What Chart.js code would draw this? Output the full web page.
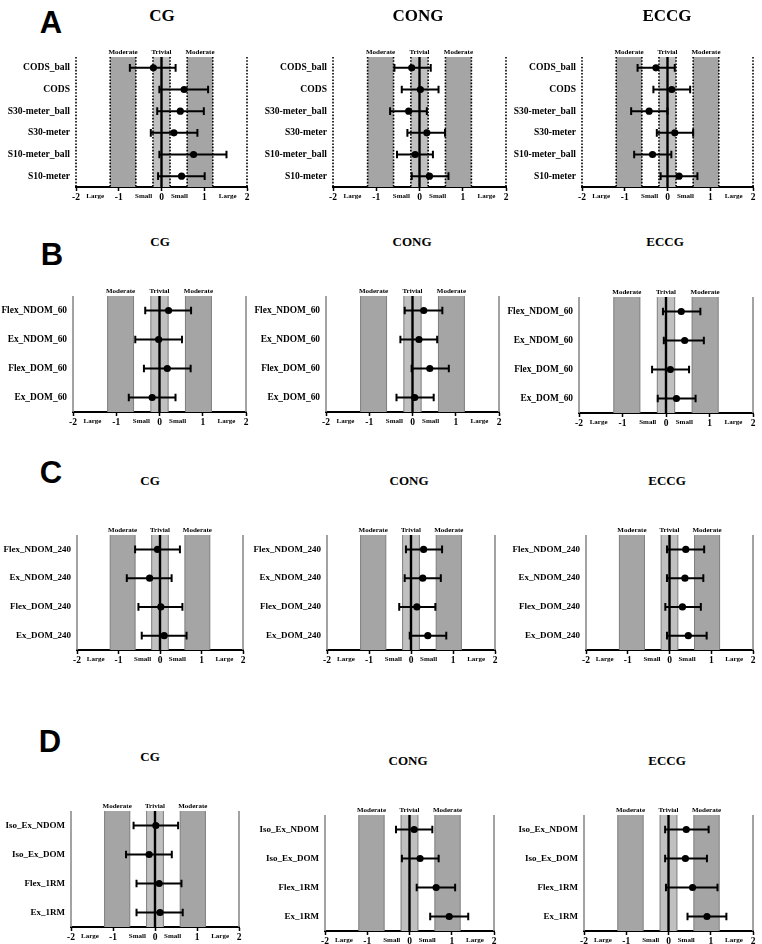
<!DOCTYPE html>
<html><head><meta charset="utf-8">
<script src="https://cdn.jsdelivr.net/npm/chart.js@4.4.1/dist/chart.umd.min.js"></script>
<style>
html,body{margin:0;padding:0;background:#fff;}
#wrap{position:relative;width:762px;height:944px;overflow:hidden;background:#fff;}
#wrap canvas{position:absolute;}
.t{position:absolute;transform:translate(-50%,-50%);font-family:'Liberation Serif','DejaVu Serif',serif;font-weight:bold;white-space:nowrap;color:#000;}
.L{position:absolute;transform:translate(-50%,-50%);font-family:'Liberation Sans',Arial,sans-serif;font-weight:bold;color:#000;font-size:31px;line-height:1;}
</style></head><body><div id="wrap"></div>
<script>
// ---------- DATA ----------
const groups = ['CG', 'CONG', 'ECCG'];
const panelLetters = ['A', 'B', 'C', 'D'];

const catsA = ['CODS_ball', 'CODS', 'S30-meter_ball', 'S30-meter', 'S10-meter_ball', 'S10-meter'];
const catsB = ['Flex_NDOM_60', 'Ex_NDOM_60', 'Flex_DOM_60', 'Ex_DOM_60'];
const catsC = ['Flex_NDOM_240', 'Ex_NDOM_240', 'Flex_DOM_240', 'Ex_DOM_240'];
const catsD = ['Iso_Ex_NDOM', 'Iso_Ex_DOM', 'Flex_1RM', 'Ex_1RM'];

const A_CG_est = [-0.19, 0.53, 0.44, 0.29, 0.75, 0.47];
const A_CG_lo  = [-0.74, -0.05, -0.10, -0.25, -0.05, -0.08];
const A_CG_hi  = [0.33, 1.09, 0.99, 0.84, 1.52, 1.01];
const A_CONG_est = [-0.18, 0.02, -0.25, 0.17, -0.10, 0.23];
const A_CONG_lo  = [-0.58, -0.41, -0.68, -0.28, -0.52, -0.18];
const A_CONG_hi  = [0.26, 0.44, 0.17, 0.59, 0.31, 0.67];
const A_ECCG_est = [-0.27, 0.10, -0.43, 0.17, -0.35, 0.27];
const A_ECCG_lo  = [-0.70, -0.33, -0.85, -0.25, -0.78, -0.16];
const A_ECCG_hi  = [0.17, 0.53, 0.00, 0.60, 0.09, 0.70];

const B_CG_est = [0.21, -0.02, 0.18, -0.17];
const B_CG_lo  = [-0.33, -0.56, -0.36, -0.71];
const B_CG_hi  = [0.73, 0.52, 0.72, 0.37];
const B_CONG_est = [0.26, 0.15, 0.40, 0.05];
const B_CONG_lo  = [-0.18, -0.28, -0.02, -0.37];
const B_CONG_hi  = [0.69, 0.57, 0.84, 0.49];
const B_ECCG_est = [0.35, 0.43, 0.10, 0.24];
const B_ECCG_lo  = [-0.07, -0.05, -0.32, -0.19];
const B_ECCG_hi  = [0.79, 0.87, 0.53, 0.68];

const C_CG_est = [-0.06, -0.25, 0.02, 0.10];
const C_CG_lo  = [-0.60, -0.80, -0.52, -0.44];
const C_CG_hi  = [0.48, 0.28, 0.54, 0.64];
const C_CONG_est = [0.30, 0.28, 0.14, 0.40];
const C_CONG_lo  = [-0.12, -0.15, -0.28, -0.03];
const C_CONG_hi  = [0.74, 0.71, 0.58, 0.84];
const C_ECCG_est = [0.39, 0.37, 0.31, 0.45];
const C_ECCG_lo  = [-0.06, -0.06, -0.10, -0.06];
const C_ECCG_hi  = [0.83, 0.81, 0.75, 0.89];

const D_CG_est = [0.02, -0.14, 0.10, 0.12];
const D_CG_lo  = [-0.51, -0.69, -0.44, -0.44];
const D_CG_hi  = [0.55, 0.40, 0.63, 0.66];
const D_CONG_est = [0.11, 0.25, 0.63, 0.94];
const D_CONG_lo  = [-0.32, -0.18, 0.17, 0.49];
const D_CONG_hi  = [0.54, 0.69, 1.08, 1.39];
const D_ECCG_est = [0.42, 0.40, 0.57, 0.91];
const D_ECCG_lo  = [-0.08, -0.08, -0.06, 0.45];
const D_ECCG_hi  = [0.95, 0.91, 1.16, 1.37];

// effect-size thresholds and axis tick labels
const moderateBands = [[-1.2, -0.6], [0.6, 1.2]];
const trivialBand = [-0.2, 0.2];
const bandLabelPos = [-0.9, 0, 0.9];
const bandLabels = ['Moderate', 'Trivial', 'Moderate'];
const xTickValues = [-2, -1.55, -1, -0.42, 0, 0.42, 1, 1.55, 2];
const xTickLabels = ['-2', 'Large', '-1', 'Small', '0', 'Small', '1', 'Large', '2'];

// ---------- LAYOUT ----------
const SERIF = "'Liberation Serif','DejaVu Serif',serif";
// plot boxes [left, right, top, bottom] per panel (row-major)
const boxes = [
  [76, 247, 57, 187], [333, 506, 57, 187], [582, 753, 57, 187],
  [73, 246, 296, 412], [326, 499, 296, 412], [579, 753, 297, 413],
  [77, 243, 535, 650], [327, 495, 535, 650], [586, 753, 535, 650],
  [71, 239, 811, 927], [325, 494, 815, 931], [584, 753, 815, 931]
];
const titlePos = [
  [[162, 16], [418, 16], [667, 16]],
  [[160, 242], [412, 242], [665, 242]],
  [[150, 481], [409, 481], [667, 481]],
  [[150, 757], [408, 761], [667, 761]]
];
const letterPos = [[51, 22], [52, 254], [51, 472], [50, 741]];
const rowStyle = [
  { dotted: true, labelSize: 9.6, titleSize: 17 },
  { dotted: false, labelSize: 9.4, titleSize: 13 },
  { dotted: false, labelSize: 9, titleSize: 13 },
  { dotted: false, labelSize: 9, titleSize: 13 }
];

const rowsData = [
  { cats: catsA, sets: [[A_CG_est, A_CG_lo, A_CG_hi], [A_CONG_est, A_CONG_lo, A_CONG_hi], [A_ECCG_est, A_ECCG_lo, A_ECCG_hi]] },
  { cats: catsB, sets: [[B_CG_est, B_CG_lo, B_CG_hi], [B_CONG_est, B_CONG_lo, B_CONG_hi], [B_ECCG_est, B_ECCG_lo, B_ECCG_hi]] },
  { cats: catsC, sets: [[C_CG_est, C_CG_lo, C_CG_hi], [C_CONG_est, C_CONG_lo, C_CONG_hi], [C_ECCG_est, C_ECCG_lo, C_ECCG_hi]] },
  { cats: catsD, sets: [[D_CG_est, D_CG_lo, D_CG_hi], [D_CONG_est, D_CONG_lo, D_CONG_hi], [D_ECCG_est, D_ECCG_lo, D_ECCG_hi]] }
];

const isWord = v => Math.abs(v - Math.round(v)) > 1e-6;

const forestPlugin = {
  id: 'forest',
  beforeDatasetsDraw(chart) {
    const o = chart.options.plugins.forest;
    const { ctx, chartArea: a, scales: { x, y } } = chart;
    const px = v => x.getPixelForValue(v);
    ctx.save();
    // bands
    ctx.fillStyle = '#a5a5a5';
    moderateBands.forEach(([l, h]) => ctx.fillRect(px(l), a.top, px(h) - px(l), a.bottom - a.top));
    ctx.fillStyle = '#c0c0c0';
    ctx.fillRect(px(trivialBand[0]), a.top, px(trivialBand[1]) - px(trivialBand[0]), a.bottom - a.top);
    // band edges
    const bandEdges = [moderateBands[0][0], moderateBands[0][1], trivialBand[0], trivialBand[1], moderateBands[1][0], moderateBands[1][1]];
    const vline = (xx) => { ctx.beginPath(); ctx.moveTo(xx, a.top); ctx.lineTo(xx, a.bottom); ctx.stroke(); };
    if (o.dotted) {
      ctx.strokeStyle = '#000'; ctx.lineWidth = 1.6; ctx.setLineDash([1.6, 1.6]);
      [x.min, ...bandEdges, x.max].forEach(v => vline(px(v)));
    } else {
      ctx.strokeStyle = '#7d7d7d'; ctx.lineWidth = 1;
      bandEdges.forEach(v => vline(px(v)));
      ctx.strokeStyle = '#8c8c8c'; ctx.lineWidth = 1.6;
      [x.min, x.max].forEach(v => vline(px(v)));
    }
    ctx.setLineDash([]);
    // band labels
    ctx.fillStyle = '#000';
    ctx.font = 'bold 7px ' + SERIF;
    ctx.textAlign = 'center'; ctx.textBaseline = 'alphabetic';
    bandLabelPos.forEach((v, i) => ctx.fillText(bandLabels[i], px(v), a.top - 3));
    // zero line
    ctx.strokeStyle = '#000'; ctx.lineWidth = 2.4;
    vline(px(0));
    // confidence intervals
    ctx.lineWidth = 2;
    o.lo.forEach((lo, i) => {
      const yy = y.getPixelForValue(i);
      const x1 = px(lo), x2 = px(o.hi[i]);
      ctx.beginPath();
      ctx.moveTo(x1, yy); ctx.lineTo(x2, yy);
      ctx.moveTo(x1, yy - 3.8); ctx.lineTo(x1, yy + 3.8);
      ctx.moveTo(x2, yy - 3.8); ctx.lineTo(x2, yy + 3.8);
      ctx.stroke();
    });
    ctx.restore();
  }
};

const wrap = document.getElementById('wrap');

function addText(cls, txt, x, y, size) {
  const d = document.createElement('div');
  d.className = cls; d.textContent = txt;
  d.style.left = x + 'px'; d.style.top = y + 'px';
  if (size) d.style.fontSize = size + 'px';
  wrap.appendChild(d);
}

function makePanel(cats, est, lo, hi, box, st) {
  const [L, R, T, B] = box;
  const yw = Math.min(88, L), padTop = 16, xh = 22, padR = 8;
  const W = yw + (R - L) + padR, H = padTop + (B - T) + xh;
  const cv = document.createElement('canvas');
  cv.width = W; cv.height = H;
  cv.style.left = (L - yw) + 'px'; cv.style.top = (T - padTop) + 'px';
  cv.style.width = W + 'px'; cv.style.height = H + 'px';
  wrap.appendChild(cv);
  new Chart(cv, {
    type: 'scatter',
    data: { datasets: [{
      data: cats.map((c, i) => ({ x: est[i], y: c })),
      pointRadius: 3.6, pointHoverRadius: 3.6,
      pointBackgroundColor: '#000', pointBorderColor: '#000', pointBorderWidth: 0,
      showLine: false
    }] },
    options: {
      responsive: false, animation: false, events: [],
      layout: { padding: { top: padTop, right: padR, left: 0, bottom: 0 } },
      plugins: {
        legend: { display: false }, tooltip: { enabled: false },
        forest: { lo: lo, hi: hi, dotted: st.dotted }
      },
      scales: {
        x: {
          type: 'linear', min: -2, max: 2,
          afterBuildTicks: s => { s.ticks = xTickValues.map(v => ({ value: v })); },
          afterFit: s => { s.height = xh; },
          ticks: {
            autoSkip: false, maxRotation: 0, minRotation: 0, padding: 1, color: '#000',
            callback: v => xTickLabels[xTickValues.indexOf(v)],
            font: c => ({ family: SERIF, weight: 'bold', size: (c.tick && isWord(c.tick.value)) ? 7 : 9.5 })
          },
          grid: {
            drawOnChartArea: false, drawTicks: true, tickLength: 4, tickWidth: 1.5,
            tickColor: c => (c.tick && isWord(c.tick.value)) ? 'rgba(0,0,0,0)' : '#000'
          },
          border: { display: true, color: '#000', width: 2 }
        },
        y: {
          type: 'category', labels: cats, offset: true,
          afterFit: s => { s.width = yw; },
          ticks: { padding: 6, color: '#000', autoSkip: false, font: { family: SERIF, weight: 'bold', size: st.labelSize } },
          grid: { display: false, drawTicks: false },
          border: { display: false }
        }
      }
    },
    plugins: [forestPlugin]
  });
}

rowsData.forEach((row, r) => {
  const st = rowStyle[r];
  addText('L', panelLetters[r], letterPos[r][0], letterPos[r][1]);
  row.sets.forEach((s, c) => {
    makePanel(row.cats, s[0], s[1], s[2], boxes[r * 3 + c], st);
    addText('t', groups[c], titlePos[r][c][0], titlePos[r][c][1], st.titleSize);
  });
});
</script>
</body></html>
